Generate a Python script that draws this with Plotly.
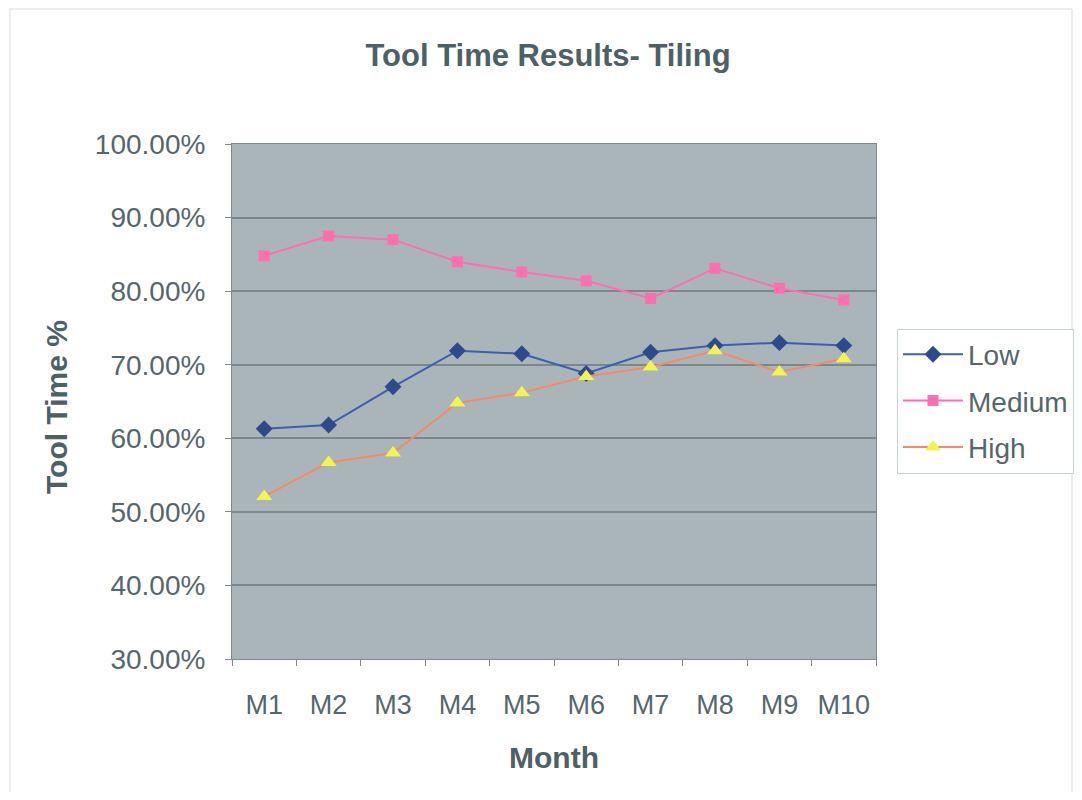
import plotly.graph_objects as go

months = ["M1", "M2", "M3", "M4", "M5", "M6", "M7", "M8", "M9", "M10"]
low = [61.3, 61.8, 67.0, 71.9, 71.5, 68.8, 71.7, 72.6, 73.0, 72.6]
medium = [84.8, 87.5, 87.0, 84.0, 82.6, 81.4, 79.0, 83.1, 80.4, 78.8]
high = [52.1, 56.7, 58.0, 64.8, 66.2, 68.4, 69.7, 71.9, 69.0, 70.8]

FONT = "Liberation Sans, Arial, sans-serif"
TXT = "#56666c"
HEAD = "#4d6066"

# figure is drawn with an 8px page margin, so page coords = figure coords + 8
W, H = 1066, 784
PL, PR, PT, PB = 232, 876, 144, 659  # plot-area edges in page pixels
OFF = 8

fig = go.Figure()
fig.add_trace(go.Scatter(x=months, y=low, name="Low", mode="lines+markers",
                         line=dict(color="#3a5fb0", width=2),
                         marker=dict(symbol="diamond", size=13, color="#2c4a8c"),
                         legendgroup="a"))
fig.add_trace(go.Scatter(x=months, y=medium, name="Medium", mode="lines+markers",
                         line=dict(color="#ff6fb0", width=2),
                         marker=dict(symbol="square", size=11, color="#ff6fb0"),
                         legendgroup="b"))
fig.add_trace(go.Scatter(x=months, y=high, name="High", mode="lines+markers",
                         line=dict(color="#f58a6a", width=2),
                         marker=dict(symbol="triangle-up", size=14, color="#f4f450"),
                         legendgroup="c"))

pw, ph = PR - PL, PB - PT


def px(xp):
    return (xp - PL) / pw


def py(yp):
    return (PB - yp) / ph


fig.update_layout(
    width=W, height=H,
    margin=dict(l=PL - OFF, r=W - (PR - OFF), t=PT - OFF, b=H - (PB - OFF),
                autoexpand=False),
    paper_bgcolor="white",
    plot_bgcolor="#aab5ba",
    font=dict(family=FONT, color=TXT),
    title=dict(text="<b>Tool Time Results- Tiling</b>", x=(548 - OFF) / W, xref="container",
               y=1 - (55 - OFF) / H, yref="container", xanchor="center", yanchor="middle",
               font=dict(size=31, color=HEAD)),
    legend=dict(xref="container", yref="container",
                x=(897 - OFF) / W, xanchor="left", y=1 - (401 - OFF) / H, yanchor="middle",
                font=dict(size=28, color=TXT), bordercolor="#c5d3d8", borderwidth=1,
                bgcolor="white", tracegroupgap=7, itemwidth=60),
    xaxis=dict(type="category", tickson="boundaries", ticks="outside", ticklen=6,
               tickcolor="#7f8a8e", showline=True, linecolor="#7f8a8e", mirror=True,
               showgrid=False, tickfont=dict(size=27, color=TXT), ticklabelstandoff=22,
               range=[-0.5, 9.5]),
    yaxis=dict(range=[30, 100], dtick=10, tickformat=".2f", ticksuffix="%",
               ticks="outside", ticklen=6, tickcolor="#7f8a8e", showline=True,
               linecolor="#7f8a8e", mirror=True, gridcolor="#7c878b", gridwidth=1.5,
               tickfont=dict(size=28, color=TXT), ticklabelstandoff=14),
    annotations=[
        dict(text="<b>Month</b>", x=px(554), xref="paper", y=py(757), yref="paper",
             xanchor="center", yanchor="middle", showarrow=False,
             font=dict(size=30, color=HEAD)),
        dict(text="<b>Tool Time %</b>", x=px(56), xref="paper", y=py(407), yref="paper",
             xanchor="center", yanchor="middle", showarrow=False, textangle=-90,
             font=dict(size=30, color=HEAD)),
    ],
    shapes=[dict(type="rect", xref="paper", yref="paper",
                 x0=px(10), x1=px(1072), y0=py(795), y1=py(9),
                 line=dict(color="#d5e0e3", width=1), layer="below")],
)

fig.write_html("out.html")
